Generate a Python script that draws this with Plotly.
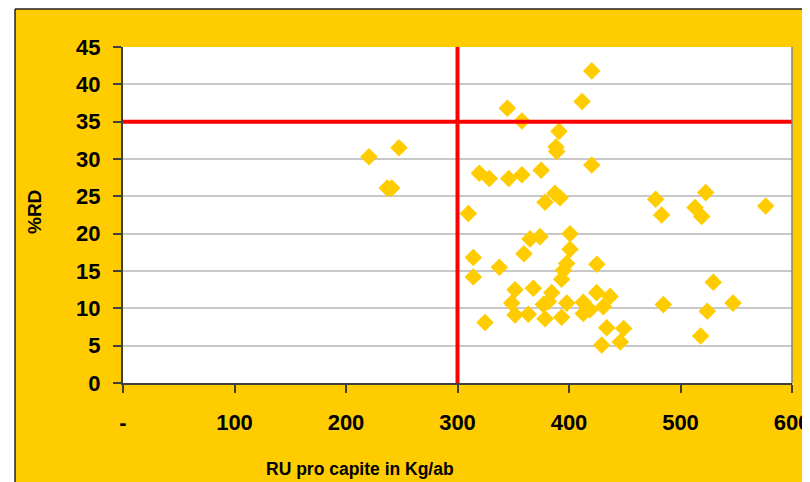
import plotly.graph_objects as go

# RU pro capite (Kg/ab) and %RD
ru_pro_capite = [
    220.6, 247.5, 237, 241, 420.4, 411.7, 344.7, 357.8, 391, 388.3,
    389, 420.4, 319.6, 328.5, 345.9, 357.8, 375, 378.5, 387.4, 392,
    309.7, 365, 374, 400.9, 400.9, 314.2, 359.6, 397.9, 425, 395,
    337.5, 314.2, 393.4, 351.6, 368, 384.5, 348.6, 377, 381.4, 398,
    412.8, 424.8, 436.8, 418.8, 430.8, 351.6, 363.5, 378.5, 393.4, 412.8,
    324.7, 433.8, 449, 429.3, 446, 477.7, 483.1, 522.6, 513, 519,
    576.4, 529.4, 484.6, 547.1, 524, 518.1,
]
perc_rd = [
    30.3, 31.5, 26.1, 26.1, 41.8, 37.7, 36.8, 35.1, 33.7, 31.6,
    31.0, 29.2, 28.1, 27.4, 27.4, 27.9, 28.5, 24.2, 25.4, 24.8,
    22.7, 19.3, 19.6, 20.0, 17.9, 16.8, 17.3, 16.0, 15.9, 15.1,
    15.5, 14.2, 13.9, 12.5, 12.7, 12.1, 10.7, 10.5, 10.9, 10.7,
    10.8, 12.1, 11.6, 9.8, 10.2, 9.1, 9.2, 8.6, 8.8, 9.3,
    8.1, 7.4, 7.3, 5.1, 5.5, 24.6, 22.5, 25.5, 23.5, 22.3,
    23.7, 13.5, 10.5, 10.7, 9.6, 6.3,
]
x_tick_vals = [0, 100, 200, 300, 400, 500, 600]
x_tick_text = ["-", "100", "200", "300", "400", "500", "600"]
y_tick_vals = [0, 5, 10, 15, 20, 25, 30, 35, 40, 45]
x_threshold = 300
y_threshold = 35

YELLOW = "#FFCC00"
FONT = "Liberation Sans, Arial, sans-serif"

fig = go.Figure()
fig.add_trace(go.Scatter(
    x=ru_pro_capite, y=perc_rd, mode="markers",
    marker=dict(symbol="diamond", size=13.5, color=YELLOW, line=dict(width=0)),
    showlegend=False, cliponaxis=False,
))

shapes = [
    # threshold lines
    dict(type="line", xref="x", yref="y", x0=x_threshold, x1=x_threshold, y0=0, y1=45,
         line=dict(color="#FF0000", width=4), layer="above"),
    dict(type="line", xref="x", yref="y", x0=0, x1=600, y0=y_threshold, y1=y_threshold,
         line=dict(color="#FF0000", width=4), layer="above"),
    # plot frame right edge
    dict(type="line", xref="paper", yref="paper", x0=1, x1=1, y0=0, y1=1,
         line=dict(color="#808080", width=1.5)),
    # white outer strips and chart-area border
    dict(type="rect", xref="paper", yref="paper", x0=-0.19, x1=-0.1614, y0=-0.31, y1=1.15,
         fillcolor="white", line=dict(width=0)),
    dict(type="rect", xref="paper", yref="paper", x0=-0.19, x1=1.05, y0=1.1131, y1=1.15,
         fillcolor="white", line=dict(width=0)),
    dict(type="line", xref="paper", yref="paper", x0=-0.1614, x1=-0.1614, y0=-0.31, y1=1.1131,
         line=dict(color="#222222", width=1.5)),
    dict(type="line", xref="paper", yref="paper", x0=-0.1614, x1=1.05, y0=1.1131, y1=1.1131,
         line=dict(color="#222222", width=1.5)),
]

annotations = [
    dict(text="RU pro capite in Kg/ab", xref="paper", yref="paper",
         x=0.354, y=-0.256, showarrow=False,
         font=dict(family=FONT, size=17.5, color="black", weight="bold"),
         xanchor="center", yanchor="middle"),
    dict(text="%RD", xref="paper", yref="paper", textangle=-90,
         x=-0.1315, y=0.509, showarrow=False,
         font=dict(family=FONT, size=19, color="black", weight="bold"),
         xanchor="center", yanchor="middle"),
]

tickfont = dict(family=FONT, size=22, color="black", weight="bold")

fig.update_layout(
    width=802, height=474,
    margin=dict(l=115, r=18, t=39, b=99, autoexpand=False),
    paper_bgcolor=YELLOW, plot_bgcolor="white",
    shapes=shapes, annotations=annotations,
    font=dict(family=FONT, color="black"),
    xaxis=dict(range=[0, 600], tickvals=x_tick_vals, ticktext=x_tick_text, automargin=False,
               showgrid=False, zeroline=False, showline=True, linecolor="#404040", linewidth=2,
               ticks="outside", ticklen=8, tickcolor="#404040", tickwidth=1.5,
               tickfont=tickfont, ticklabelstandoff=11, ticklabeloverflow="allow"),
    yaxis=dict(range=[0, 45], tickvals=y_tick_vals, automargin=False,
               showgrid=True, gridcolor="#C8C8C8", gridwidth=1.5, zeroline=False,
               showline=True, linecolor="#404040", linewidth=2,
               ticks="outside", ticklen=8, tickcolor="#404040", tickwidth=1.5,
               tickfont=tickfont, ticklabelstandoff=8, ticklabeloverflow="allow"),
)

fig.write_html("out.html")
